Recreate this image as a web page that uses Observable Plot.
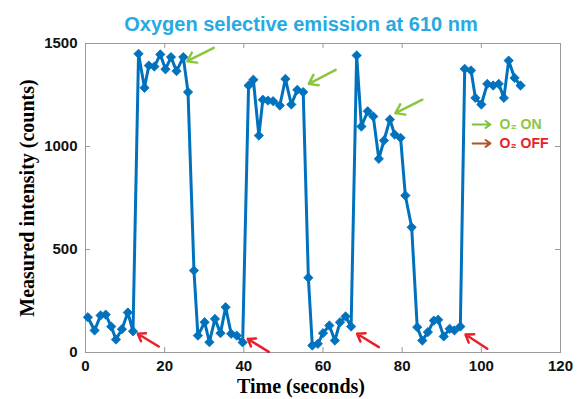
<!DOCTYPE html>
<html>
<head>
<meta charset="utf-8">
<script src="https://cdn.jsdelivr.net/npm/d3@7"></script>
<script src="https://cdn.jsdelivr.net/npm/@observablehq/plot@0.6"></script>
<style>
  html, body { margin: 0; padding: 0; background: #fff; }
</style>
</head>
<body>
<div id="chart"></div>
<script>
// ---- data ----
const title = "Oxygen selective emission at 610 nm";
const xLabel = "Time (seconds)";
const yLabel = "Measured intensity (counts)";
const xTicks = [0, 20, 40, 60, 80, 100, 120];
const yTicks = [0, 500, 1000, 1500];

const time = [0.6, 2.3, 3.8, 5.1, 6.5, 7.7, 9.2, 10.7, 12.0, 13.4, 14.9, 16.0, 17.4, 18.9, 20.2, 21.6, 23.0, 24.7, 25.9, 27.4,
  28.4, 30.1, 31.3, 32.7, 34.1, 35.4, 36.8, 38.2, 39.7, 41.2, 42.4, 43.8, 44.8, 46.1, 47.4, 49.1, 50.5, 52.0, 53.5, 55.0,
  56.3, 57.3, 58.7, 60.0, 61.6, 63.0, 64.3, 65.7, 67.1, 68.5, 69.7, 71.3, 72.7, 74.1, 75.4, 76.9, 78.1, 79.6, 80.8, 82.4,
  83.8, 85.1, 86.5, 88.0, 89.1, 90.5, 92.0, 93.2, 94.7, 95.8, 97.4, 98.5, 100.0, 101.5, 103.0, 104.4, 105.7, 106.9, 108.4, 109.9];
const intensity = [171, 107, 180, 184, 126, 63, 113, 194, 103, 1450, 1285, 1393, 1388, 1447, 1375, 1434, 1366, 1434, 1264, 398,
  82, 147, 50, 163, 94, 220, 91, 82, 49, 1296, 1324, 1053, 1227, 1223, 1220, 1199, 1328, 1204, 1275, 1264,
  363, 34, 42, 94, 131, 58, 147, 175, 126, 1442, 1097, 1171, 1146, 940, 1029, 1131, 1058, 1042, 762, 608,
  123, 58, 99, 155, 159, 78, 115, 107, 126, 1377, 1369, 1236, 1204, 1304, 1296, 1304, 1236, 1417, 1333, 1296];

// O2 OFF arrows (red): tail -> tip, in data units
const offTailT = [18.5, 46.3, 74.1, 101.5];
const offTailV = [29, 3, 26, 18];
const offTipT = [13.2, 41.0, 68.6, 96.0];
const offTipV = [91, 66, 91, 87];
// O2 ON arrows (green)
const onTailT = [32.4, 63.2, 85.1];
const onTailV = [1479, 1372, 1227];
const onTipT = [25.7, 56.4, 78.3];
const onTipV = [1414, 1304, 1162];

// legend entries
const legendLabels = ["O\u2082 ON", "O\u2082 OFF"];
const legendV = [1107, 1015];
const legendArrowT = [97.8, 102.3];
const legendTextT = 104.6;

// ---- build tables ----
const series = time.map((t, i) => ({t, v: intensity[i]}));
const offArrows = offTipT.map((t, i) => ({x1: offTailT[i], y1: offTailV[i], x2: t, y2: offTipV[i]}));
const onArrows = onTipT.map((t, i) => ({x1: onTailT[i], y1: onTailV[i], x2: t, y2: onTipV[i]}));
const legendArrowColors = ["#7dc143", "#b0552a"];
const legendTextColors = ["#8cc63f", "#e8202a"];
const legend = legendLabels.map((l, i) => ({label: l, v: legendV[i], arrow: legendArrowColors[i], color: legendTextColors[i]}));

const W = 583, H = 399;
const mT = 43, mB = 47, mL = 85, mR = 23;
const fh = H - mT - mB, fw = W - mL - mR;
const tickLen = 5;
const blue = "#0072bd";
const sans = "'Liberation Sans', Arial, sans-serif";
const serif = "'Liberation Serif', 'Times New Roman', serif";

const chart = Plot.plot({
  width: W, height: H,
  marginTop: mT, marginBottom: mB, marginLeft: mL, marginRight: mR,
  x: {domain: [0, 120]},
  y: {domain: [0, 1500]},
  style: {fontFamily: sans, fontSize: "15px", fontWeight: "bold", color: "#000", background: "#fff"},
  marks: [
    Plot.frame({stroke: "#9a9a9a", strokeWidth: 1}),
    // inward ticks
    Plot.tickX(xTicks, {x: d => d, insetTop: fh - tickLen, stroke: "#9a9a9a"}),
    Plot.tickX(xTicks, {x: d => d, insetBottom: fh - tickLen, stroke: "#9a9a9a"}),
    Plot.tickY(yTicks, {y: d => d, insetRight: fw - tickLen, stroke: "#9a9a9a"}),
    Plot.tickY(yTicks, {y: d => d, insetLeft: fw - tickLen, stroke: "#9a9a9a"}),
    Plot.axisX({ticks: xTicks, tickSize: 0, tickPadding: 8, label: null, tickFormat: d => String(d), fill: "#111"}),
    Plot.axisY({ticks: yTicks, tickSize: 0, tickPadding: 8, label: null, tickFormat: d => String(d), fill: "#111"}),
    // series
    Plot.line(series, {x: "t", y: "v", stroke: blue, strokeWidth: 3, strokeLinejoin: "round"}),
    Plot.dot(series, {x: "t", y: "v", symbol: "diamond2", r: 4.2, fill: blue, stroke: blue, strokeWidth: 0.8}),
    // annotation arrows
    Plot.arrow(offArrows, {x1: "x1", y1: "y1", x2: "x2", y2: "y2", stroke: "#e8202a", strokeWidth: 2.5, headLength: 7, headAngle: 70}),
    Plot.arrow(onArrows, {x1: "x1", y1: "y1", x2: "x2", y2: "y2", stroke: "#8cc63f", strokeWidth: 2.5, headLength: 7, headAngle: 70}),
    // legend
    Plot.arrow(legend, {x1: legendArrowT[0], x2: legendArrowT[1], y1: "v", y2: "v", stroke: "arrow", strokeWidth: 2, headLength: 5, headAngle: 70}),
    Plot.text(legend, {x: legendTextT, y: "v", text: "label", fill: "color", textAnchor: "start", fontSize: 14, fontWeight: "bold", fontFamily: sans}),
    // title and axis titles
    Plot.text([title], {frameAnchor: "top", dy: -27, dx: -22, text: d => d, fill: "#29a9e1", fontSize: 20, fontWeight: "bold", fontFamily: sans}),
    Plot.text([xLabel], {frameAnchor: "bottom", dy: 40, dx: -22, text: d => d, fill: "#000", fontSize: 20, fontWeight: "bold", fontFamily: serif}),
    Plot.text([yLabel], {frameAnchor: "left", dx: -58, rotate: -90, textAnchor: "middle", text: d => d, fill: "#000", fontSize: 20, fontWeight: "bold", fontFamily: serif})
  ]
});
document.getElementById("chart").appendChild(chart);
</script>
</body>
</html>
